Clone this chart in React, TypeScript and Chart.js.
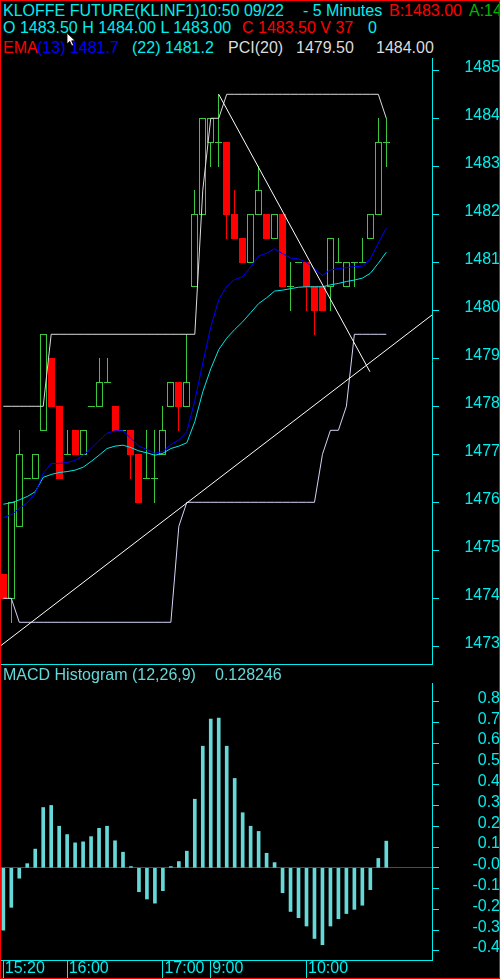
import React, { useEffect, useRef } from 'react';
import { Chart, registerables } from 'chart.js';

Chart.register(...registerables);

// ---- 5-minute bars, KLINF1 ----
const OPEN = [
  1474.5, 1474.0, 1475.5, 1476.5, 1476.5, 1477.5, 1479.0, 1478.0, 1477.0, 1477.5,
  1477.0, 1478.0, 1478.0, 1478.5, 1478.0, 1477.5, 1477.5, 1477.0, 1476.5, 1476.5,
  1477.0, 1478.0, 1478.5, 1478.0, 1480.5, 1482.0, 1483.5, 1483.5, 1483.5, 1482.0,
  1481.5, 1481.0, 1482.0, 1482.0, 1481.5, 1482.0, 1480.5, 1481.0, 1481.0, 1480.5,
  1480.5, 1480.5, 1481.0, 1480.5, 1481.0, 1481.0, 1481.5, 1482.0, 1483.5,
];
const HIGH = [
  1474.5, 1476.0, 1477.5, 1476.5, 1477.0, 1479.5, 1479.0, 1478.0, 1477.5, 1477.5,
  1477.5, 1478.0, 1479.0, 1479.0, 1478.0, 1477.5, 1477.5, 1477.0, 1477.5, 1477.5,
  1478.0, 1478.5, 1478.5, 1479.5, 1482.5, 1484.0, 1484.0, 1484.5, 1483.5, 1482.5,
  1481.5, 1482.0, 1483.0, 1482.0, 1482.0, 1482.0, 1481.0, 1481.0, 1481.0, 1480.5,
  1480.5, 1481.5, 1481.5, 1481.0, 1481.0, 1481.5, 1482.0, 1484.0, 1484.0,
];
const LOW = [
  1474.0, 1473.5, 1475.5, 1476.5, 1476.5, 1477.5, 1478.0, 1476.5, 1477.0, 1477.0,
  1477.0, 1478.0, 1478.0, 1478.5, 1477.5, 1477.5, 1476.5, 1476.0, 1476.5, 1476.0,
  1477.0, 1478.0, 1477.5, 1478.0, 1480.5, 1482.0, 1483.0, 1483.0, 1481.5, 1481.5,
  1481.0, 1481.0, 1482.0, 1481.5, 1481.5, 1480.5, 1480.0, 1481.0, 1480.0, 1479.5,
  1480.0, 1480.0, 1481.0, 1480.5, 1480.5, 1481.0, 1481.5, 1482.0, 1483.0,
];
const CLOSE = [
  1474.0, 1476.0, 1477.0, 1476.5, 1477.0, 1479.5, 1478.0, 1476.5, 1477.0, 1477.0,
  1477.5, 1478.0, 1478.5, 1478.5, 1477.5, 1477.5, 1477.0, 1476.0, 1476.5, 1476.5,
  1477.5, 1478.5, 1478.0, 1478.5, 1482.0, 1484.0, 1484.0, 1483.5, 1482.0, 1481.5,
  1481.0, 1482.0, 1482.5, 1481.5, 1482.0, 1480.5, 1480.5, 1481.0, 1480.5, 1480.0,
  1480.0, 1481.5, 1481.0, 1481.0, 1481.0, 1481.0, 1482.0, 1483.5, 1483.5,
];

// ---- overlays ----
const EMA13 = [
  1475.68, 1475.74, 1475.87, 1475.99, 1476.19, 1476.6, 1476.81, 1476.81, 1476.83, 1476.87,
  1476.98, 1477.12, 1477.28, 1477.44, 1477.49, 1477.49, 1477.33, 1477.17, 1477.1, 1477.02,
  1477.06, 1477.2, 1477.3, 1477.47, 1478.12, 1478.9, 1479.65, 1480.22, 1480.5, 1480.64,
  1480.7, 1480.9, 1481.13, 1481.19, 1481.28, 1481.18, 1481.09, 1481.07, 1481.0, 1480.86,
  1480.73, 1480.84, 1480.87, 1480.89, 1480.91, 1480.92, 1481.07, 1481.4, 1481.71,
];
const EMA22 = [
  1475.96, 1475.99, 1476.05, 1476.12, 1476.22, 1476.52, 1476.58, 1476.62, 1476.64, 1476.67,
  1476.73, 1476.85, 1476.98, 1477.12, 1477.17, 1477.19, 1477.14, 1477.07, 1477.03, 1476.98,
  1477.02, 1477.12, 1477.17, 1477.24, 1477.68, 1478.3, 1478.78, 1479.18, 1479.42, 1479.6,
  1479.76, 1479.95, 1480.14, 1480.26, 1480.4, 1480.42, 1480.45, 1480.48, 1480.49, 1480.49,
  1480.49, 1480.53, 1480.56, 1480.6, 1480.63, 1480.67, 1480.77, 1480.98, 1481.21,
];
const PCI_UPPER = [
  1478.0, 1478.0, 1478.0, 1478.0, 1478.0, 1478.0, 1479.5, 1479.5, 1479.5, 1479.5,
  1479.5, 1479.5, 1479.5, 1479.5, 1479.5, 1479.5, 1479.5, 1479.5, 1479.5, 1479.5,
  1479.5, 1479.5, 1479.5, 1479.5, 1479.5, 1482.5, 1484.0, 1484.0, 1484.5, 1484.5,
  1484.5, 1484.5, 1484.5, 1484.5, 1484.5, 1484.5, 1484.5, 1484.5, 1484.5, 1484.5,
  1484.5, 1484.5, 1484.5, 1484.5, 1484.5, 1484.5, 1484.5, 1484.5, 1484.0,
];
const PCI_LOWER = [
  1474.0, 1474.0, 1473.5, 1473.5, 1473.5, 1473.5, 1473.5, 1473.5, 1473.5, 1473.5,
  1473.5, 1473.5, 1473.5, 1473.5, 1473.5, 1473.5, 1473.5, 1473.5, 1473.5, 1473.5,
  1473.5, 1473.5, 1475.5, 1476.0, 1476.0, 1476.0, 1476.0, 1476.0, 1476.0, 1476.0,
  1476.0, 1476.0, 1476.0, 1476.0, 1476.0, 1476.0, 1476.0, 1476.0, 1476.0, 1476.0,
  1477.0, 1477.5, 1477.5, 1478.0, 1479.5, 1479.5, 1479.5, 1479.5, 1479.5,
];

// hand-drawn trend lines (bar index, price)
const TREND_UP_X = [-0.3, 53.75];
const TREND_UP_Y = [1473.015, 1479.905];
const TREND_DOWN_X = [27.0, 45.95];
const TREND_DOWN_Y = [1484.5, 1478.72];

// ---- MACD histogram (12,26,9) ----
const MACD_HIST = [
  -0.3, -0.19, -0.05, 0.02, 0.09, 0.29, 0.3, 0.2, 0.16, 0.12,
  0.125, 0.15, 0.19, 0.2, 0.13, 0.075, 0.006, -0.115, -0.15, -0.17,
  -0.11, 0.006, 0.03, 0.08, 0.33, 0.585, 0.715, 0.72, 0.585, 0.43,
  0.265, 0.2, 0.175, 0.07, 0.025, -0.12, -0.21, -0.24, -0.28, -0.34,
  -0.37, -0.28, -0.245, -0.22, -0.2, -0.18, -0.105, 0.045, 0.128246,
];

// ---- axes ----
const PRICE_TICKS = [1473, 1474, 1475, 1476, 1477, 1478, 1479, 1480, 1481, 1482, 1483, 1484, 1485];
const MACD_TICKS = [0.8, 0.7, 0.6, 0.5, 0.4, 0.3, 0.2, 0.1, 0, -0.1, -0.2, -0.3, -0.4];
const MACD_TICK_LABELS = ['0.8', '0.7', '0.6', '0.5', '0.4', '0.3', '0.2', '0.1', '-0.0', '-0.1', '-0.2', '-0.3', '-0.4'];
const TIME_TICK_BARS = [0, 8, 20, 26, 38];
const TIME_LABELS = ['15:20', '16:00', '17:00', '9:00', '10:00'];

const FONT = "'Liberation Sans', Arial, Helvetica, sans-serif";
const CYAN = '#00eeee';
const RED = '#ff0000';
const GREEN = '#3cc83c';
const BLUE = '#0000ff';
const TEAL = '#66d8d8';
const LIGHT = '#dcdcdc';
const LAVENDER = '#d4d4f6';

const X_MIN = -0.29;
const X_MAX = 53.73;
const LABEL_RIGHT = 486;
const AXIS_X = 432;
const TICK_LEN = 7;

function widestText(labels: string[]): number {
  const c = document.createElement('canvas').getContext('2d') as CanvasRenderingContext2D;
  c.font = `16px ${FONT}`;
  return Math.max(...labels.map((t) => c.measureText(t).width));
}

const candlePlugin = {
  id: 'candles',
  beforeDatasetsDraw(chart: any) {
    const { ctx, chartArea: a } = chart;
    const xs = chart.scales.x;
    const ys = chart.scales.y;
    ctx.save();
    ctx.beginPath();
    ctx.rect(a.left, a.top, a.right - a.left, a.bottom - a.top);
    ctx.clip();
    for (let i = 0; i < OPEN.length; i++) {
      const px = Math.floor(xs.getPixelForValue(i));
      const yO = Math.round(ys.getPixelForValue(OPEN[i]));
      const yC = Math.round(ys.getPixelForValue(CLOSE[i]));
      const yH = Math.round(ys.getPixelForValue(HIGH[i]));
      const yL = Math.round(ys.getPixelForValue(LOW[i]));
      const down = CLOSE[i] < OPEN[i];
      const up = CLOSE[i] > OPEN[i];
      const col = down ? RED : GREEN;
      ctx.fillStyle = col;
      ctx.fillRect(px, yH, 1, Math.max(1, yL - yH + 1));
      if (down) {
        ctx.fillRect(px - 3, yO, 7, yC - yO + 1);
      } else if (up) {
        const t = yC;
        const b = yO;
        ctx.fillStyle = '#000';
        ctx.fillRect(px - 2, t + 1, 5, b - t - 1);
        ctx.fillStyle = col;
        ctx.fillRect(px - 3, t, 7, 1);
        ctx.fillRect(px - 3, b, 7, 1);
        ctx.fillRect(px - 3, t, 1, b - t + 1);
        ctx.fillRect(px + 3, t, 1, b - t + 1);
      } else {
        ctx.fillRect(px - 3, yO, 7, 1);
      }
    }
    ctx.restore();
  },
};

const priceFramePlugin = {
  id: 'priceFrame',
  afterDraw(chart: any) {
    const { ctx, chartArea: a } = chart;
    ctx.save();
    ctx.fillStyle = CYAN;
    ctx.fillRect(0, Math.round(a.bottom), Math.round(a.right), 1);
    ctx.restore();
  },
};

const pts = (xs: number[], ys: number[]) => ys.map((y, i) => ({ x: xs[i], y }));
const series = (vals: number[]) => vals.map((y, i) => ({ x: i, y }));

const lineDs = (data: any[], color: string) => ({
  type: 'line' as const,
  data,
  borderColor: color,
  borderWidth: 1,
  pointRadius: 0,
  pointHoverRadius: 0,
  tension: 0,
  fill: false,
});

export default function App() {
  const priceRef = useRef<HTMLCanvasElement>(null);
  const macdRef = useRef<HTMLCanvasElement>(null);

  useEffect(() => {
    const priceLabelW = widestText(PRICE_TICKS.map(String));
    const macdLabelW = widestText(MACD_TICK_LABELS);

    const price = new Chart(priceRef.current as HTMLCanvasElement, {
      type: 'line',
      data: {
        datasets: [
          lineDs(pts(TREND_UP_X, TREND_UP_Y), '#ffffff'),
          lineDs(pts(TREND_DOWN_X, TREND_DOWN_Y), '#ffffff'),
          lineDs(series(EMA13), BLUE),
          lineDs(series(EMA22), '#00e6e6'),
          lineDs(series(PCI_UPPER), LIGHT),
          lineDs(series(PCI_LOWER), LAVENDER),
        ],
      },
      options: {
        animation: false,
        responsive: false,
        maintainAspectRatio: false,
        events: [],
        layout: { padding: { left: 1, right: 0, top: 2, bottom: 4 } },
        plugins: { legend: { display: false }, tooltip: { enabled: false } },
        scales: {
          x: { type: 'linear', min: X_MIN, max: X_MAX, display: false },
          y: {
            type: 'linear',
            position: 'right',
            min: 1472.631,
            max: 1485.256,
            afterFit: (s: any) => {
              s.width = 500 - AXIS_X;
              s.paddingTop = 0;
              s.paddingBottom = 0;
            },
            afterBuildTicks: (s: any) => {
              s.ticks = PRICE_TICKS.map((v) => ({ value: v }));
            },
            border: { display: true, color: CYAN, width: 1 },
            grid: { drawOnChartArea: false, drawTicks: true, tickLength: TICK_LEN, color: CYAN },
            ticks: {
              color: CYAN,
              font: { family: FONT, size: 16 },
              crossAlign: 'far',
              padding: LABEL_RIGHT - AXIS_X - TICK_LEN - priceLabelW,
              labelOffset: -3,
              autoSkip: false,
              callback: (v: any) => String(v),
            },
          },
        },
      } as any,
      plugins: [candlePlugin, priceFramePlugin],
    });

    const macd = new Chart(macdRef.current as HTMLCanvasElement, {
      type: 'bar',
      data: {
        datasets: [
          {
            data: series(MACD_HIST),
            backgroundColor: TEAL,
            borderWidth: 0,
            barThickness: 3,
          },
        ],
      },
      options: {
        animation: false,
        responsive: false,
        maintainAspectRatio: false,
        events: [],
        layout: { padding: { left: 1, right: 0, top: 17, bottom: 0 } },
        plugins: { legend: { display: false }, tooltip: { enabled: false } },
        scales: {
          x: {
            type: 'linear',
            position: 'bottom',
            min: X_MIN,
            max: X_MAX,
            offset: false,
            afterFit: (s: any) => {
              s.height = 19;
              s.paddingLeft = 0;
              s.paddingRight = 0;
            },
            afterBuildTicks: (s: any) => {
              s.ticks = TIME_TICK_BARS.map((v) => ({ value: v }));
            },
            border: { display: true, color: CYAN, width: 1 },
            grid: { offset: false, drawOnChartArea: false, drawTicks: true, tickLength: 18, color: CYAN },
            ticks: {
              color: CYAN,
              font: { family: FONT, size: 16 },
              align: 'start',
              padding: -19,
              labelOffset: 1.5,
              maxRotation: 0,
              minRotation: 0,
              autoSkip: false,
              callback: (_v: any, i: number) => TIME_LABELS[i],
            },
          },
          y: {
            type: 'linear',
            position: 'right',
            min: -0.4435,
            max: 0.889,
            afterFit: (s: any) => {
              s.width = 500 - AXIS_X;
              s.paddingTop = 0;
              s.paddingBottom = 0;
            },
            afterBuildTicks: (s: any) => {
              s.ticks = MACD_TICKS.map((v) => ({ value: v }));
            },
            border: { display: true, color: CYAN, width: 1 },
            grid: {
              drawOnChartArea: true,
              drawTicks: true,
              tickLength: TICK_LEN,
              color: (c: any) => (c.tick && c.tick.value === 0 ? RED : 'rgba(0,0,0,0)'),
              tickColor: CYAN,
            },
            ticks: {
              color: CYAN,
              font: { family: FONT, size: 16 },
              crossAlign: 'far',
              padding: LABEL_RIGHT - AXIS_X - TICK_LEN - macdLabelW,
              labelOffset: -3,
              autoSkip: false,
              callback: (_v: any, i: number) => MACD_TICK_LABELS[i],
            },
          },
        },
      } as any,
    });

    return () => {
      price.destroy();
      macd.destroy();
    };
  }, []);

  const last = OPEN.length - 1;
  const txt = (left: number, top: number, color: string, s: string) => (
    <span
      style={{
        position: 'absolute',
        left,
        top,
        color,
        fontSize: 16,
        lineHeight: '16px',
        whiteSpace: 'pre',
        fontFamily: FONT,
      }}
    >
      {s}
    </span>
  );

  return (
    <div
      style={{
        position: 'fixed',
        left: 0,
        top: 0,
        width: 500,
        height: 979,
        background: '#000',
        overflow: 'hidden',
      }}
    >
      <canvas
        ref={priceRef}
        width={500}
        height={612}
        style={{ position: 'absolute', left: 0, top: 56, width: 500, height: 612 }}
      />
      <canvas
        ref={macdRef}
        width={500}
        height={313}
        style={{ position: 'absolute', left: 0, top: 666, width: 500, height: 313 }}
      />

      {txt(3, 3, CYAN, 'KLOFFE FUTURE(KLINF1)10:50 09/22')}
      {txt(303, 3, CYAN, '- 5 Minutes')}
      {txt(389, 3, RED, 'B:1483.00')}
      {txt(469, 3, '#00b400', 'A:1483.50')}

      {txt(3, 20, CYAN, `O ${OPEN[last].toFixed(2)} H ${HIGH[last].toFixed(2)} L ${LOW[last].toFixed(2)}`)}
      {txt(242, 20, RED, `C ${CLOSE[last].toFixed(2)} V 37`)}
      {txt(368, 20, CYAN, '0')}

      {txt(3, 40, RED, 'EMA')}
      {txt(37, 40, BLUE, `(13) ${EMA13[last].toFixed(1)}`)}
      {txt(132, 40, CYAN, `(22) ${EMA22[last].toFixed(1)}`)}
      {txt(228, 40, LIGHT, 'PCI(20)')}
      {txt(296, 40, LIGHT, PCI_LOWER[last].toFixed(2))}
      {txt(376, 40, LIGHT, PCI_UPPER[last].toFixed(2))}

      {txt(3, 666.5, TEAL, 'MACD Histogram (12,26,9)')}
      {txt(215, 666.5, TEAL, MACD_HIST[last].toFixed(6))}

      <svg
        width={12}
        height={16}
        style={{ position: 'absolute', left: 66, top: 32 }}
        viewBox="0 0 12 16"
      >
        <path d="M1 1 L1 12 L3.8 9.4 L5.8 14 L7.6 13.2 L5.7 8.8 L9.2 8.8 Z" fill="#ffffff" stroke="#000000" strokeWidth={0.8} />
      </svg>

      <div
        style={{
          position: 'absolute',
          left: 0,
          top: 0,
          width: 500,
          height: 979,
          boxSizing: 'border-box',
          border: '1px solid #ff0000',
          pointerEvents: 'none',
        }}
      />
    </div>
  );
}
